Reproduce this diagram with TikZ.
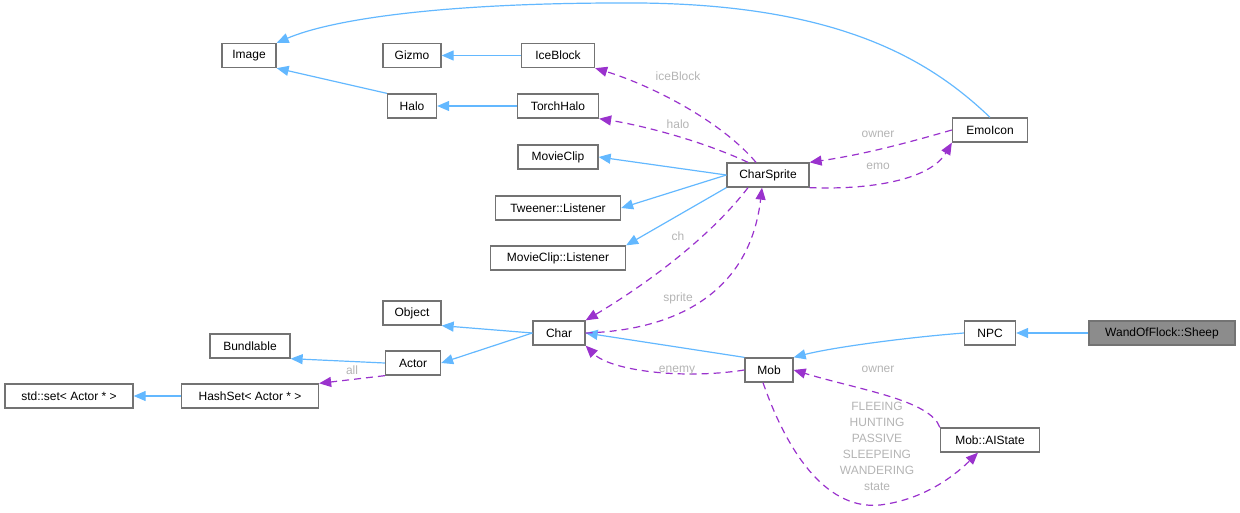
\documentclass[tikz,border=0pt]{standalone}
\usepackage{fontspec}
\setmainfont{Liberation Sans}
\usetikzlibrary{arrows.meta}
\definecolor{inh}{HTML}{63B8FF}
\definecolor{use}{HTML}{9A32CD}
\definecolor{lbl}{HTML}{B4B4B4}
\tikzstyle{every node}=[font=\fontsize{12}{14}\selectfont]
\tikzstyle{cls}=[draw=black!55, line width=1.3pt, rectangle, minimum height=24pt, inner xsep=4pt, fill=white]
\tikzstyle{inherit}=[draw=inh, line width=1.2pt, -{Triangle[length=12pt,width=10pt]}]
\tikzstyle{member}=[draw=use, line width=1.2pt, dash pattern=on 7pt off 5pt, -{Triangle[length=12pt,width=10pt]}]
\tikzstyle{tag}=[text=lbl, inner sep=1pt]

\begin{document}
\begin{tikzpicture}[x=1pt, y=-1pt]
\useasboundingbox (0,0) rectangle (1240,512);

\node[cls, minimum width=54pt] (Image) at (249,55.5) {Image};
\node[cls, minimum width=58pt] (Gizmo) at (412,55.5) {Gizmo};
\node[cls, minimum width=73pt] (IceBlock) at (558,55.5) {IceBlock};
\node[cls, minimum width=49pt] (Halo) at (412,106) {Halo};
\node[cls, minimum width=81pt] (TorchHalo) at (558,106) {TorchHalo};
\node[cls, minimum width=80pt] (MovieClip) at (558,157) {MovieClip};
\node[cls, minimum width=82pt] (CharSprite) at (768,175) {CharSprite};
\node[cls, minimum width=75pt] (EmoIcon) at (990,130) {EmoIcon};
\node[cls, minimum width=125pt] (TweenerL) at (558,208) {Tweener::Listener};
\node[cls, minimum width=135pt] (MovieClipL) at (558,258) {MovieClip::Listener};
\node[cls, minimum width=58pt] (Object) at (412,313) {Object};
\node[cls, minimum width=52pt] (Char) at (559,333) {Char};
\node[cls, minimum width=80pt] (Bundlable) at (250,346) {Bundlable};
\node[cls, minimum width=55pt] (Actor) at (413,363) {Actor};
\node[cls, minimum width=128pt] (StdSet) at (69,396) {std::set\textless{} Actor * \textgreater{}};
\node[cls, minimum width=137pt] (HashSet) at (250,396) {HashSet\textless{} Actor * \textgreater{}};
\node[cls, minimum width=48pt] (Mob) at (769,370) {Mob};
\node[cls, minimum width=51pt] (NPC) at (990,333) {NPC};
\node[cls, minimum width=146pt, fill=black!45] (Sheep) at (1162,333) {WandOfFlock::Sheep};
\node[cls, minimum width=99pt] (AIState) at (990,440) {Mob::AIState};

% inheritance
\draw[inherit] (Halo.north west) -- (Image.south east);
\draw[inherit] (IceBlock) -- (Gizmo);
\draw[inherit] (TorchHalo) -- (Halo);
\draw[inherit] (EmoIcon.north) .. controls (930,60) and (840,5) .. (640,3)
               .. controls (440,2) and (330,20) .. (Image.north east);
\draw[inherit] (CharSprite.west) -- (MovieClip.east);
\draw[inherit] (CharSprite.west) -- (TweenerL.east);
\draw[inherit] (CharSprite.south west) -- (MovieClipL.north east);
\draw[inherit] (Char.west) -- (Object.south east);
\draw[inherit] (Char.west) -- (Actor.east);
\draw[inherit] (Actor.west) -- (Bundlable.south east);
\draw[inherit] (HashSet) -- (StdSet);
\draw[inherit] (Mob.north west) -- (Char.east);
\draw[inherit] (NPC.west) .. controls (900,338) and (830,348) .. (Mob.north east);
\draw[inherit] (Sheep) -- (NPC);

% members
\draw[member] ([xshift=-12pt]CharSprite.north) .. controls (720,120) and (650,85) .. (IceBlock.south east);
\draw[member] ([xshift=-20pt]CharSprite.north) .. controls (700,140) and (640,125) .. (TorchHalo.south east);
\draw[member] (EmoIcon.west) .. controls (900,145) and (860,155) .. (CharSprite.north east);
\draw[member] (CharSprite.south east) .. controls (870,190) and (930,180) .. (EmoIcon.south west);
\draw[member] ([xshift=-20pt]CharSprite.south) .. controls (700,250) and (620,300) .. (Char.north east);
\draw[member] (Char.east) .. controls (680,330) and (750,290) .. ([xshift=-6pt]CharSprite.south);
\draw[member] (Actor.south west) -- (HashSet.north east);
\draw[member] (Mob.west) .. controls (680,380) and (610,370) .. (Char.south east);
\draw[member] (AIState.north west) .. controls (930,400) and (860,390) .. (Mob.east);
\draw[member] ([xshift=-6pt]Mob.south) .. controls (790,460) and (830,510) .. (880,505)
  .. controls (920,500) and (950,480) .. ([xshift=-12pt]AIState.south);

% labels
\node[tag] (IceTag) at (678,76) {iceBlock};
\node[tag] (HaloTag) at (678,124) {halo};
\node[tag] (OwnerTag) at (878,134) {owner};
\node[tag] (EmoTag) at (878,166) {emo};
\node[tag] (ChTag) at (678,236) {ch};
\node[tag] (SpriteTag) at (678,298) {sprite};
\node[tag] (EnemyTag) at (677,371) {enemy};
\node[tag] (AllTag) at (352,370) {all};
\node[tag] (MobOwnerTag) at (878,369) {owner};
\node[tag, align=center, font=\fontsize{12}{16}\selectfont] (StateTag) at (877,446)
  {FLEEING\\HUNTING\\PASSIVE\\SLEEPEING\\WANDERING\\state};

\end{tikzpicture}
\end{document}
